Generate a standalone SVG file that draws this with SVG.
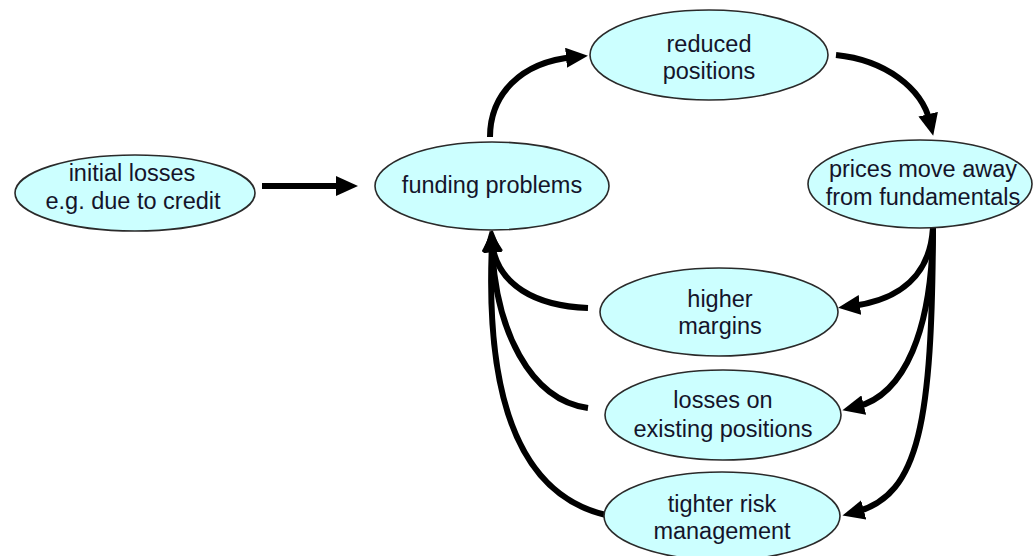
<svg xmlns="http://www.w3.org/2000/svg" width="1033" height="556" viewBox="0 0 1033 556">
  <style>
    .node ellipse { fill: #ccffff; stroke: #2a2a2a; stroke-width: 1.6; }
    .node text { font-family: "Liberation Sans", Arial, sans-serif; font-size: 23.5px; fill: #14142a; text-anchor: middle; }
    .edge { fill: none; stroke: #000; stroke-width: 6; marker-end: url(#head); }
  </style>
  <defs>
    <marker id="head" markerUnits="userSpaceOnUse" viewBox="0 0 22 20" markerWidth="22" markerHeight="20" refX="8" refY="10" orient="auto">
      <path d="M0,0 L22,10 L0,20 Z" fill="#000"/>
    </marker>
  </defs>

  <!-- connectors -->
  <g id="connectors">
    <path class="edge" d="M262,186 L344,186"/>
    <path class="edge" d="M490,137 C490,95 520,62 574,57"/>
    <path class="edge" d="M836,55 C885,60 922,88 930,122"/>
    <path class="edge" d="M933,228 C930,275 900,300 852,306"/>
    <path class="edge" d="M933,228 C932,330 905,395 856,407"/>
    <path class="edge" d="M933,228 C932,420 920,495 856,512"/>
    <path class="edge" d="M588,308 C535,306 498,285 492,244"/>
    <path class="edge" d="M588,408 C530,400 495,330 492,244"/>
    <path class="edge" d="M606,515 C520,495 485,400 492,244"/>
  </g>

  <!-- nodes -->
  <g id="initial-losses" class="node">
    <ellipse cx="135" cy="193" rx="120" ry="38"/>
    <text x="132" y="181">initial losses</text>
    <text x="133" y="209">e.g. due to credit</text>
  </g>
  <g id="funding-problems" class="node">
    <ellipse cx="492" cy="186" rx="117" ry="44"/>
    <text x="492" y="193">funding problems</text>
  </g>
  <g id="reduced-positions" class="node">
    <ellipse cx="709" cy="55" rx="119" ry="45"/>
    <text x="709" y="52">reduced</text>
    <text x="709" y="79">positions</text>
  </g>
  <g id="prices-move-away" class="node">
    <ellipse cx="920" cy="184" rx="112" ry="44"/>
    <text x="923" y="177">prices move away</text>
    <text x="923" y="205">from fundamentals</text>
  </g>
  <g id="higher-margins" class="node">
    <ellipse cx="719" cy="312" rx="119" ry="44"/>
    <text x="720" y="307">higher</text>
    <text x="720" y="334">margins</text>
  </g>
  <g id="losses-on-existing" class="node">
    <ellipse cx="723" cy="415" rx="118" ry="45"/>
    <text x="723" y="408">losses on</text>
    <text x="723" y="437">existing positions</text>
  </g>
  <g id="tighter-risk" class="node">
    <ellipse cx="722" cy="516" rx="118" ry="44"/>
    <text x="722" y="512">tighter risk</text>
    <text x="722" y="539">management</text>
  </g>
</svg>
